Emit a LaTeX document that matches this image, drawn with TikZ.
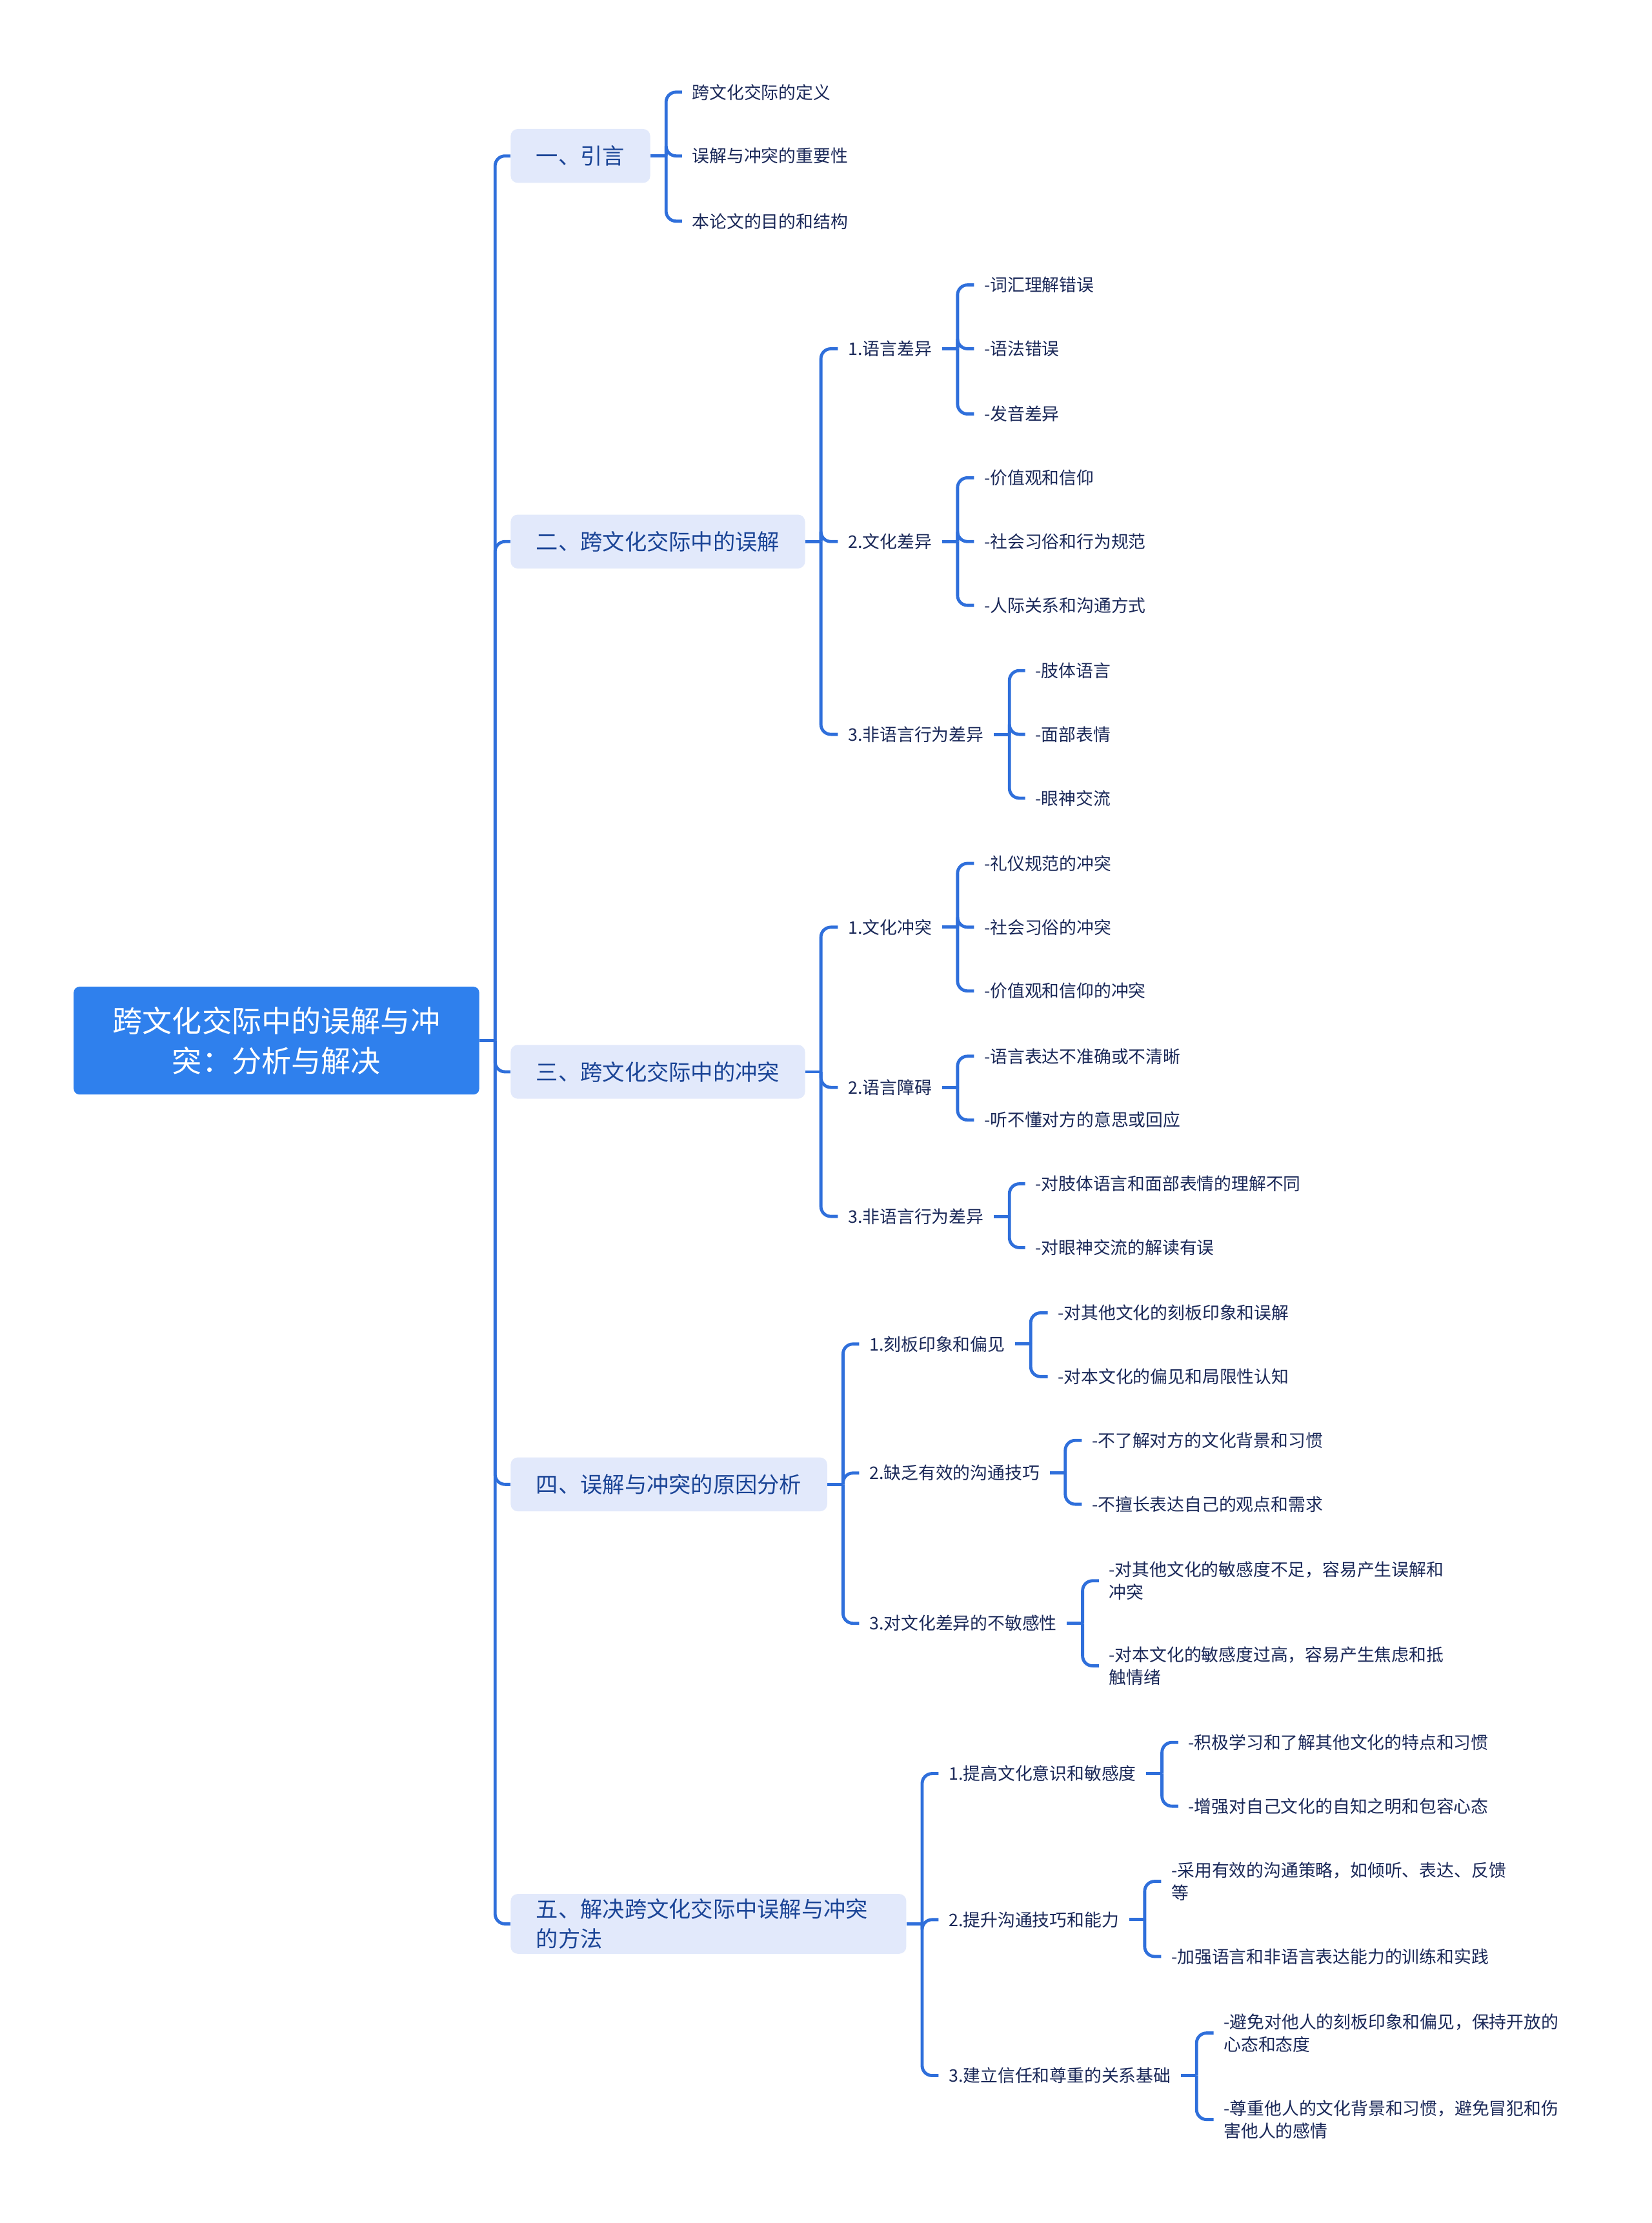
\documentclass[tikz,border=0pt]{standalone}
\usepackage{fontspec}
\setmainfont{Noto Sans CJK SC}
\usetikzlibrary{calc}

\definecolor{linkblue}{HTML}{2F6FDB}
\definecolor{rootblue}{HTML}{2F80ED}
\definecolor{secfill}{HTML}{E2E9FB}
\definecolor{sectext}{HTML}{1A4496}
\definecolor{leaftext}{HTML}{1A2858}

\tikzset{
  rootbox/.style={fill=rootblue, text=white, rounded corners=4pt, minimum width=286pt,
    minimum height=76pt, align=center, font=\fontsize{21}{28}\selectfont},
  secbox/.style={fill=secfill, text=sectext, rounded corners=5pt, anchor=west,
    inner xsep=18pt, minimum height=38pt, align=left, font=\fontsize{15.6}{21}\selectfont},
  leaf/.style={anchor=west, inner xsep=7pt, inner ysep=2pt, text=leaftext, align=left,
    font=\fontsize{12.2}{16}\selectfont},
  link/.style={draw=linkblue, line width=2.2pt, rounded corners=7pt},
}

\begin{document}
\begin{tikzpicture}[x=1pt, y=-1pt]
% page size and background
\useasboundingbox (0,0) rectangle (1165,1568);
\fill[white] (0,0) rectangle (1165,1568);

% root and the five sections
\node[rootbox] (root) at (195,734) {跨文化交际中的误解与冲\\突：分析与解决};
\node[secbox] (sec1) at (360,110) {一、引言};
\node[secbox] (sec2) at (360,382) {二、跨文化交际中的误解};
\node[secbox] (sec3) at (360,756) {三、跨文化交际中的冲突};
\node[secbox] (sec4) at (360,1047) {四、误解与冲突的原因分析};
\node[secbox, text width=243pt] (sec5) at (360,1357) {五、解决跨文化交际中误解与冲突\\的方法};

% section 1
\node[leaf] (a1) at (481,65) {跨文化交际的定义};
\node[leaf] (a2) at (481,110) {误解与冲突的重要性};
\node[leaf] (a3) at (481,156) {本论文的目的和结构};

% section 2
\node[leaf] (b1) at (591,246) {1.语言差异};
\node[leaf] (b2) at (591,382) {2.文化差异};
\node[leaf] (b3) at (591,518) {3.非语言行为差异};
\node[leaf] (b11) at (687,201) {-词汇理解错误};
\node[leaf] (b12) at (687,246) {-语法错误};
\node[leaf] (b13) at (687,292) {-发音差异};
\node[leaf] (b21) at (687,337) {-价值观和信仰};
\node[leaf] (b22) at (687,382) {-社会习俗和行为规范};
\node[leaf] (b23) at (687,427) {-人际关系和沟通方式};
\node[leaf] (b31) at (723,473) {-肢体语言};
\node[leaf] (b32) at (723,518) {-面部表情};
\node[leaf] (b33) at (723,563) {-眼神交流};

% section 3
\node[leaf] (c1) at (591,654) {1.文化冲突};
\node[leaf] (c2) at (591,767) {2.语言障碍};
\node[leaf] (c3) at (591,858) {3.非语言行为差异};
\node[leaf] (c11) at (687,609) {-礼仪规范的冲突};
\node[leaf] (c12) at (687,654) {-社会习俗的冲突};
\node[leaf] (c13) at (687,699) {-价值观和信仰的冲突};
\node[leaf] (c21) at (687,745) {-语言表达不准确或不清晰};
\node[leaf] (c22) at (687,790) {-听不懂对方的意思或回应};
\node[leaf] (c31) at (723,835) {-对肢体语言和面部表情的理解不同};
\node[leaf] (c32) at (723,880) {-对眼神交流的解读有误};

% section 4
\node[leaf] (d1) at (606,948) {1.刻板印象和偏见};
\node[leaf] (d2) at (606,1039) {2.缺乏有效的沟通技巧};
\node[leaf] (d3) at (606,1145) {3.对文化差异的不敏感性};
\node[leaf] (d11) at (739,926) {-对其他文化的刻板印象和误解};
\node[leaf] (d12) at (739,971) {-对本文化的偏见和局限性认知};
\node[leaf] (d21) at (763,1016) {-不了解对方的文化背景和习惯};
\node[leaf] (d22) at (763,1061) {-不擅长表达自己的观点和需求};
\node[leaf] (d31) at (775,1115) {-对其他文化的敏感度不足，容易产生误解和\\冲突};
\node[leaf] (d32) at (775,1175) {-对本文化的敏感度过高，容易产生焦虑和抵\\触情绪};

% section 5
\node[leaf] (e1) at (662,1251) {1.提高文化意识和敏感度};
\node[leaf] (e2) at (662,1354) {2.提升沟通技巧和能力};
\node[leaf] (e3) at (662,1464) {3.建立信任和尊重的关系基础};
\node[leaf] (e11) at (831,1229) {-积极学习和了解其他文化的特点和习惯};
\node[leaf] (e12) at (831,1274) {-增强对自己文化的自知之明和包容心态};
\node[leaf] (e21) at (819,1327) {-采用有效的沟通策略，如倾听、表达、反馈\\等};
\node[leaf] (e22) at (819,1380) {-加强语言和非语言表达能力的训练和实践};
\node[leaf] (e31) at (856,1434) {-避免对他人的刻板印象和偏见，保持开放的\\心态和态度};
\node[leaf] (e32) at (856,1495) {-尊重他人的文化背景和习惯，避免冒犯和伤\\害他人的感情};

% junction points, 11pt right of each parent
\coordinate (root-j) at ($(root.east)+(11,0)$);
\coordinate (sec1-j) at ($(sec1.east)+(11,0)$);
\coordinate (sec2-j) at ($(sec2.east)+(11,0)$);
\coordinate (sec3-j) at ($(sec3.east)+(11,0)$);
\coordinate (sec4-j) at ($(sec4.east)+(11,0)$);
\coordinate (sec5-j) at ($(sec5.east)+(11,0)$);
\coordinate (b1-j) at ($(b1.east)+(11,0)$);
\coordinate (b2-j) at ($(b2.east)+(11,0)$);
\coordinate (b3-j) at ($(b3.east)+(11,0)$);
\coordinate (c1-j) at ($(c1.east)+(11,0)$);
\coordinate (c2-j) at ($(c2.east)+(11,0)$);
\coordinate (c3-j) at ($(c3.east)+(11,0)$);
\coordinate (d1-j) at ($(d1.east)+(11,0)$);
\coordinate (d2-j) at ($(d2.east)+(11,0)$);
\coordinate (d3-j) at ($(d3.east)+(11,0)$);
\coordinate (e1-j) at ($(e1.east)+(11,0)$);
\coordinate (e2-j) at ($(e2.east)+(11,0)$);
\coordinate (e3-j) at ($(e3.east)+(11,0)$);

% stubs out of the parents
\draw[link] (root.east) -- (root-j);
\draw[link] (sec1.east) -- (sec1-j);
\draw[link] (sec2.east) -- (sec2-j);
\draw[link] (sec3.east) -- (sec3-j);
\draw[link] (sec4.east) -- (sec4-j);
\draw[link] (sec5.east) -- (sec5-j);
\draw[link] (b1.east) -- (b1-j);
\draw[link] (b2.east) -- (b2-j);
\draw[link] (b3.east) -- (b3-j);
\draw[link] (c1.east) -- (c1-j);
\draw[link] (c2.east) -- (c2-j);
\draw[link] (c3.east) -- (c3-j);
\draw[link] (d1.east) -- (d1-j);
\draw[link] (d2.east) -- (d2-j);
\draw[link] (d3.east) -- (d3-j);
\draw[link] (e1.east) -- (e1-j);
\draw[link] (e2.east) -- (e2-j);
\draw[link] (e3.east) -- (e3-j);

% trunk
\draw[link] (root-j) |- (sec1.west);
\draw[link] (root-j) |- (sec2.west);
\draw[link] (root-j) |- (sec3.west);
\draw[link] (root-j) |- (sec4.west);
\draw[link] (root-j) |- (sec5.west);

% branches
\draw[link] (sec1-j) |- (a1.west);
\draw[link] (sec1-j) |- (a2.west);
\draw[link] (sec1-j) |- (a3.west);
\draw[link] (sec2-j) |- (b1.west);
\draw[link] (sec2-j) |- (b2.west);
\draw[link] (sec2-j) |- (b3.west);
\draw[link] (b1-j) |- (b11.west);
\draw[link] (b1-j) |- (b12.west);
\draw[link] (b1-j) |- (b13.west);
\draw[link] (b2-j) |- (b21.west);
\draw[link] (b2-j) |- (b22.west);
\draw[link] (b2-j) |- (b23.west);
\draw[link] (b3-j) |- (b31.west);
\draw[link] (b3-j) |- (b32.west);
\draw[link] (b3-j) |- (b33.west);
\draw[link] (sec3-j) |- (c1.west);
\draw[link] (sec3-j) |- (c2.west);
\draw[link] (sec3-j) |- (c3.west);
\draw[link] (c1-j) |- (c11.west);
\draw[link] (c1-j) |- (c12.west);
\draw[link] (c1-j) |- (c13.west);
\draw[link] (c2-j) |- (c21.west);
\draw[link] (c2-j) |- (c22.west);
\draw[link] (c3-j) |- (c31.west);
\draw[link] (c3-j) |- (c32.west);
\draw[link] (sec4-j) |- (d1.west);
\draw[link] (sec4-j) |- (d2.west);
\draw[link] (sec4-j) |- (d3.west);
\draw[link] (d1-j) |- (d11.west);
\draw[link] (d1-j) |- (d12.west);
\draw[link] (d2-j) |- (d21.west);
\draw[link] (d2-j) |- (d22.west);
\draw[link] (d3-j) |- (d31.west);
\draw[link] (d3-j) |- (d32.west);
\draw[link] (sec5-j) |- (e1.west);
\draw[link] (sec5-j) |- (e2.west);
\draw[link] (sec5-j) |- (e3.west);
\draw[link] (e1-j) |- (e11.west);
\draw[link] (e1-j) |- (e12.west);
\draw[link] (e2-j) |- (e21.west);
\draw[link] (e2-j) |- (e22.west);
\draw[link] (e3-j) |- (e31.west);
\draw[link] (e3-j) |- (e32.west);
\end{tikzpicture}
\end{document}
